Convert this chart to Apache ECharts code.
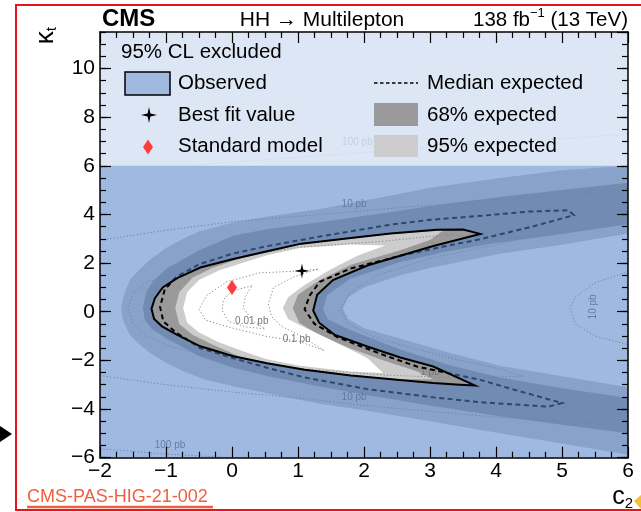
<!DOCTYPE html>
<html><head><meta charset="utf-8">
<script src="https://cdn.jsdelivr.net/npm/echarts@6/dist/echarts.min.js"></script>
<style>html,body{margin:0;padding:0;background:#fff}#c{width:641px;height:512px}</style>
</head><body><div id="c"></div>
<script>
// ---- axis ranges / ticks ----
const X_MIN = -2, X_MAX = 6, Y_MIN = -6, Y_MAX = 11.5;
const LEGEND_FLOOR = 6;

// ---- observed 95% CL allowed region (closed crescent) ----
const obsOuter = [[3.76,3.2],[3.5,3.38],[3.1,3.37],[2.4,3.22],[1.8,3.03],[1.05,2.8],[0.55,2.5],[0.02,2.17],[-0.48,1.82],[-0.83,1.38],[-1.05,1.0],[-1.17,0.55],[-1.22,0.12],[-1.18,-0.3],[-1.06,-0.6],[-0.83,-0.95],[-0.48,-1.42],[0.02,-1.83],[0.53,-2.12],[1.1,-2.38],[1.8,-2.62],[2.5,-2.8],[3.05,-2.93],[3.45,-3.0],[3.68,-3.03]];
const obsInner = [[3.05,-2.25],[2.55,-1.88],[2.05,-1.43],[1.55,-0.94],[1.32,-0.45],[1.23,0.05],[1.29,0.7],[1.53,1.3],[2.05,1.9],[2.55,2.3],[3.05,2.7]];

// ---- median expected (closed) ----
const medOuter = [[5.18,3.97],[5.1,4.17],[4.5,4.12],[3.8,3.95],[3.0,3.78],[2.4,3.58],[1.35,3.1],[0.5,2.68],[0.0,2.38],[-0.5,1.95],[-0.85,1.42],[-1.02,0.9],[-1.09,0.2],[-1.04,-0.4],[-0.85,-0.85],[-0.48,-1.5],[0.02,-1.91],[0.53,-2.3],[1.1,-2.7],[2.05,-3.18],[3.05,-3.52],[3.76,-3.72],[4.5,-3.85],[4.8,-3.9],[5.0,-3.75]];
const medInner = [[4.36,-3.27],[3.76,-2.8],[2.8,-2.25],[2.3,-1.78],[1.6,-1.05],[1.25,-0.5],[1.1,0.1],[1.18,0.68],[1.33,1.23],[1.79,1.77],[2.55,2.3],[3.2,2.68],[3.76,2.98],[4.52,3.48]];

// ---- expected +2 sigma region (outer edge of 95% band) ----
const e95Outer = [[6,6.0],[5.0,5.82],[4.06,5.5],[3.0,5.1],[2.39,4.77],[1.33,4.22],[0.5,3.9],[0.0,3.66],[-0.5,3.3],[-0.74,3.0],[-1.0,2.62],[-1.24,2.15],[-1.45,1.6],[-1.55,1.3],[-1.65,0.6],[-1.68,0.12],[-1.65,-0.35],[-1.55,-0.95],[-1.4,-1.35],[-1.24,-1.7],[-1.0,-2.1],[-0.74,-2.45],[-0.4,-2.8],[0.0,-3.05],[0.77,-3.48],[1.33,-3.78],[2.0,-4.05],[3.0,-4.5],[4.06,-5.0],[5.0,-5.42],[6,-5.88]];
const e95Inner = [[6,-3.1],[5.0,-2.65],[4.06,-2.22],[3.3,-1.7],[2.55,-1.1],[2.0,-0.68],[1.76,-0.3],[1.68,0.12],[1.76,0.6],[2.0,1.0],[2.55,1.5],[3.0,1.8],[4.06,2.38],[5.0,2.75],[6,3.22]];

// ---- expected +1 sigma region ----
const e68Outer = [[6,5.3],[5.0,5.0],[4.06,4.72],[3.0,4.35],[2.39,4.09],[1.33,3.68],[0.5,3.38],[0.02,3.12],[-0.48,2.55],[-0.98,1.8],[-1.2,1.25],[-1.3,0.8],[-1.35,0.15],[-1.32,-0.35],[-1.22,-0.7],[-0.98,-1.12],[-0.48,-1.84],[0.02,-2.3],[0.53,-2.64],[1.33,-3.07],[2.0,-3.4],[3.0,-3.85],[4.06,-4.3],[5.0,-4.65],[6,-5.0]];
const e68Inner = [[6,-3.55],[5.0,-3.15],[4.06,-2.7],[3.3,-2.2],[2.55,-1.55],[1.79,-0.75],[1.45,-0.3],[1.38,0.1],[1.44,0.68],[1.79,1.36],[2.55,2.05],[3.2,2.45],[3.9,2.78],[5.0,3.2],[6,3.6]];

// ---- expected -1 sigma region (closed) ----
const m1Contour = [[3.2,3.34],[2.4,3.19],[1.8,3.0],[1.05,2.77],[0.55,2.46],[0.1,2.17],[-0.3,1.8],[-0.6,1.4],[-0.8,0.8],[-0.86,0.15],[-0.8,-0.5],[-0.6,-0.95],[-0.3,-1.35],[0.1,-1.82],[0.53,-2.09],[1.1,-2.35],[1.8,-2.59],[2.5,-2.77],[3.05,-2.78],[2.8,-2.45],[2.3,-2.0],[1.79,-1.5],[1.35,-1.0],[1.02,-0.45],[0.92,0.15],[1.0,0.7],[1.3,1.25],[1.79,1.92],[2.55,2.53],[3.0,2.95]];

// ---- expected -2 sigma region (closed) ----
const m2Contour = [[2.32,2.72],[1.8,2.76],[1.03,2.62],[0.53,2.32],[0.2,2.05],[-0.2,1.7],[-0.5,1.3],[-0.68,0.8],[-0.74,0.15],[-0.68,-0.45],[-0.5,-0.85],[-0.2,-1.25],[0.2,-1.65],[0.53,-1.95],[1.03,-2.22],[1.79,-2.46],[2.29,-2.52],[2.05,-1.9],[1.53,-1.2],[1.1,-0.65],[0.85,-0.3],[0.77,0.15],[0.85,0.6],[1.1,1.1],[1.5,1.75],[1.9,2.3]];

// ---- theory cross-section isolines ----
const xs10Upper = [[-2,2.94],[-1,3.35],[0,3.7],[1.2,3.97],[2.5,4.27],[3.76,4.55],[6,5.0]];
const xs10Lower = [[-2,-2.62],[-1,-3.0],[0,-3.3],[1.03,-3.55],[2,-3.85],[3,-4.1],[4,-4.33],[6,-4.7]];
const xs10Right = [[6,1.64],[5.5,1.2],[5.2,0.6],[5.12,0.13],[5.2,-0.5],[5.5,-1.0],[6,-1.35]];
const xs100Top = [[-0.5,6.05],[1.5,6.45],[3.5,6.85],[6,7.3]];
const xs100Bottom = [[-2,-5.63],[-1,-5.85],[0,-6.0]];
const xs1 = [[4.4,3.05],[3.2,3.15],[2.3,2.9],[1.0,2.65],[0.3,2.35],[-0.4,1.95],[-0.9,1.6],[-1.3,1.2],[-1.5,0.75],[-1.58,0.15],[-1.5,-0.5],[-1.3,-1.0],[-0.9,-1.45],[-0.4,-1.8],[0.3,-2.1],[1.0,-2.33],[2.3,-2.6],[3.4,-2.72],[4.4,-2.65],[4.06,-2.35],[3.3,-1.9],[2.2,-1.1],[1.75,-0.5],[1.64,0.15],[1.8,0.8],[2.2,1.5],[3.0,2.2],[4.06,2.78],[4.4,3.05]];
const xs01 = [[1.3,1.75],[1.06,1.68],[0.42,1.6],[-0.08,1.23],[-0.38,0.68],[-0.5,0.1],[-0.4,-0.35],[0.02,-0.68],[0.53,-1.02],[1.0,-1.2],[1.4,-1.6],[1.05,-1.0],[0.75,-0.6],[0.6,-0.2],[0.55,0.32],[0.63,1.0],[0.95,1.45],[1.3,1.75]];
const xs001 = [[0.3,1.07],[0.0,0.85],[-0.13,0.5],[-0.15,0.05],[-0.05,-0.4],[0.2,-0.62],[0.5,-0.7],[0.3,-0.35],[0.17,0.18],[0.2,0.6],[0.3,1.07]];
const xsLabels = [
  {text:'10 pb', at:[1.85,4.42], rot:0},
  {text:'10 pb', at:[1.85,-3.52], rot:0},
  {text:'10 pb', at:[5.47,0.2], rot:90},
  {text:'100 pb', at:[1.9,6.98], rot:0},
  {text:'100 pb', at:[-0.94,-5.48], rot:0},
  {text:'1 pb', at:[3.0,-2.5], rot:0},
  {text:'0.1 pb', at:[0.98,-1.15], rot:0},
  {text:'0.01 pb', at:[0.3,-0.4], rot:0}
];

// ---- points ----
const smPoint = [[0, 1]];
const bestFit = [[1.06, 1.68]];

const FONT = '"Liberation Sans", Arial, Helvetica, sans-serif';
const OVERLAY = 'rgba(82,128,200,0.55)';
const GRAY95 = '#cccccc', GRAY68 = '#999999';
const minus = v => String(v).replace('-', '\u2212');

function toPx(api, pts) { return pts.map(p => api.coord(p)); }
function area(pts) { let a = 0; for (let i = 0; i < pts.length; i++) { const p = pts[i], q = pts[(i+1)%pts.length]; a += p[0]*q[1]-q[0]*p[1]; } return a/2; }

function renderLayers(params, api) {
  const ch = [];
  const fillPoly = (pts, fill) => ({type:'polygon', shape:{points:toPx(api, pts)}, style:{fill:fill, stroke:null}, silent:true});
  const strokePoly = (pts, stroke, w, dash, closed) => ({type: closed ? 'polygon' : 'polyline', shape:{points:toPx(api, pts)}, style:{fill:null, stroke:stroke, lineWidth:w, lineDash:dash}, silent:true});
  ch.push(fillPoly(e95Outer.concat(e95Inner), GRAY95));
  ch.push(fillPoly(e68Outer.concat(e68Inner), GRAY68));
  ch.push(fillPoly(m1Contour, GRAY95));
  ch.push(fillPoly(m2Contour, '#ffffff'));
  const dot = [1.2, 2.2];
  [xs10Upper, xs10Lower, xs10Right, xs100Top, xs100Bottom, xs01, xs001, xs1].forEach(l => ch.push(strokePoly(l, '#888888', 1, dot, false)));
  xsLabels.forEach(L => {
    const p = api.coord(L.at);
    ch.push({type:'text', x:p[0], y:p[1], rotation: L.rot ? Math.PI/2 : 0, silent:true,
      style:{text:L.text, fill:'#777777', font:'10px ' + FONT, align:'center', verticalAlign:'middle'}});
  });
  ch.push(strokePoly(medOuter.concat(medInner), '#000', 2, [5, 3.5], true));
  const tl = api.coord([X_MIN, Y_MAX]), tr = api.coord([X_MAX, Y_MAX]), br = api.coord([X_MAX, Y_MIN]), bl = api.coord([X_MIN, Y_MIN]);
  const rect = [tl, tr, br, bl];
  let hole = toPx(api, obsOuter.concat(obsInner));
  if (Math.sign(area(hole)) === Math.sign(area(rect))) hole = hole.slice().reverse();
  ch.push({type:'polygon', shape:{points: rect.concat([tl], hole, [hole[0]])}, style:{fill:OVERLAY, stroke:null}, silent:true});
  const lf = api.coord([X_MIN, LEGEND_FLOOR]);
  ch.push({type:'rect', shape:{x:tl[0], y:tl[1], width:tr[0]-tl[0], height:lf[1]-tl[1]}, style:{fill:'rgba(255,255,255,0.64)'}, silent:true});
  ch.push(strokePoly(obsOuter.concat(obsInner), '#000', 2, null, true));
  return {type:'group', children: ch};
}

const axisLineOn = {show:true, onZero:false, lineStyle:{color:'#000', width:1.5}};
const tickStyle = {color:'#000', width:1.2};
const chart = echarts.init(document.getElementById('c'), null, {renderer:'canvas'});
const option = {
  animation:false,
  backgroundColor:'#fff',
  grid:{left:100, right:13, top:32, bottom:54.3, outerBoundsMode:'none', containLabel:false},
  xAxis:[
    {type:'value', min:X_MIN, max:X_MAX, interval:1, position:'bottom', z:10, axisLine:axisLineOn, splitLine:{show:false},
      axisTick:{inside:true, length:11, lineStyle:tickStyle},
      minorTick:{show:true, splitNumber:4, length:6, lineStyle:tickStyle},
      axisLabel:{show:true, margin:3, color:'#000', fontSize:21, fontFamily:FONT, formatter:v=>minus(v)}},
    {type:'value', min:X_MIN, max:X_MAX, interval:1, position:'top', z:10, axisLine:axisLineOn, splitLine:{show:false},
      axisTick:{inside:true, length:11, lineStyle:tickStyle},
      minorTick:{show:true, splitNumber:4, length:6, lineStyle:tickStyle},
      axisLabel:{show:false}}
  ],
  yAxis:[
    {type:'value', min:Y_MIN, max:Y_MAX, interval:2, position:'left', z:10, axisLine:axisLineOn, splitLine:{show:false},
      axisTick:{inside:true, length:11, lineStyle:tickStyle},
      axisLabel:{show:true, margin:5, color:'#000', fontSize:21, fontFamily:FONT, showMaxLabel:false,
        formatter:v=>(Math.abs(v % 2) < 1e-9 && v <= 10) ? minus(v) : ''}},
    {type:'value', min:Y_MIN, max:Y_MAX, interval:0.5, position:'left', z:10, axisLine:{show:false, onZero:false}, splitLine:{show:false},
      axisTick:{inside:true, length:6, lineStyle:tickStyle}, axisLabel:{show:false}},
    {type:'value', min:Y_MIN, max:Y_MAX, interval:2, position:'right', z:10, axisLine:axisLineOn, splitLine:{show:false},
      axisTick:{inside:true, length:11, lineStyle:tickStyle}, axisLabel:{show:false}},
    {type:'value', min:Y_MIN, max:Y_MAX, interval:0.5, position:'right', z:10, axisLine:{show:false, onZero:false}, splitLine:{show:false},
      axisTick:{inside:true, length:6, lineStyle:tickStyle}, axisLabel:{show:false}}
  ],
  series:[
    {type:'custom', xAxisIndex:0, yAxisIndex:0, data:[[0,0]], renderItem:renderLayers, silent:true, z:2},
    {type:'scatter', xAxisIndex:0, yAxisIndex:0, data:smPoint, symbol:'diamond', symbolSize:[10,15],
      itemStyle:{color:'#ff3c3c', opacity:1}, silent:true, z:5},
    {type:'scatter', xAxisIndex:0, yAxisIndex:0, data:bestFit,
      symbol:'path://M0,-10 L1.7,-1.7 L10,0 L1.7,1.7 L0,10 L-1.7,1.7 L-10,0 L-1.7,-1.7 Z', symbolSize:15,
      itemStyle:{color:'#000', opacity:1}, silent:true, z:5}
  ],
  graphic:{elements:[
    {type:'rect', z:100, shape:{x:16, y:5, width:640, height:505}, style:{fill:null, stroke:'#e8141b', lineWidth:2}, silent:true},
    {type:'polygon', z:100, shape:{points:[[0,426],[12,434],[0,442]]}, style:{fill:'#000'}, silent:true},
    {type:'polygon', z:100, shape:{points:[[634,501],[641,495],[641,509]]}, style:{fill:'#f5c030'}, silent:true},
    {type:'text', z:100, x:102, y:19, style:{text:'CMS', font:'bold 24px ' + FONT, fill:'#000', align:'left', verticalAlign:'middle'}},
    {type:'text', z:100, x:322, y:20, style:{text:'HH \u2192 Multilepton', font:'21px ' + FONT, fill:'#000', align:'center', verticalAlign:'middle'}},
    {type:'text', z:100, x:628, y:19, style:{text:'{a|138 fb}{b|\u22121}{a| (13 TeV)}', align:'right', verticalAlign:'middle',
      rich:{a:{fontSize:20.5, fontFamily:FONT, fill:'#000', lineHeight:24, verticalAlign:'bottom'}, b:{fontSize:13, fontFamily:FONT, fill:'#000', verticalAlign:'top', lineHeight:14}}}},
    {type:'text', z:100, x:46, y:27, rotation:Math.PI/2, style:{text:'{k|\u03ba}{t|t}', align:'right', verticalAlign:'middle',
      rich:{k:{fontSize:26, fontFamily:FONT, fill:'#000', lineHeight:26, verticalAlign:'top'}, t:{fontSize:15, fontFamily:FONT, fill:'#000', verticalAlign:'bottom', lineHeight:15}}}},
    {type:'text', z:100, x:633, y:511, style:{text:'{c|c}{s|2}', align:'right', verticalAlign:'bottom',
      rich:{c:{fontSize:25, fontFamily:FONT, fill:'#000', lineHeight:26, verticalAlign:'top'}, s:{fontSize:15, fontFamily:FONT, fill:'#000', verticalAlign:'bottom', lineHeight:15}}}},
    {type:'text', z:100, x:27, y:497, style:{text:'CMS-PAS-HIG-21-002', font:'18px ' + FONT, fill:'#ef5f3f', align:'left', verticalAlign:'middle'}},
    {type:'line', z:100, shape:{x1:27, y1:507, x2:213, y2:507}, style:{stroke:'#ef5f3f', lineWidth:2.5}},
    {type:'text', z:100, x:121, y:52, style:{text:'95% CL excluded', font:'20.5px ' + FONT, fill:'#000', align:'left', verticalAlign:'middle'}},
    {type:'rect', z:100, shape:{x:125, y:72, width:45, height:23}, style:{fill:'#a0b9e1', stroke:'#000', lineWidth:1.5}},
    {type:'text', z:100, x:178, y:83.5, style:{text:'Observed', font:'20.5px ' + FONT, fill:'#000', align:'left', verticalAlign:'middle'}},
    {type:'polygon', z:100, shape:{points:[[149,107],[150.4,113.6],[157,115],[150.4,116.4],[149,123],[147.6,116.4],[141,115],[147.6,113.6]]}, style:{fill:'#000'}},
    {type:'text', z:100, x:178, y:115, style:{text:'Best fit value', font:'20.5px ' + FONT, fill:'#000', align:'left', verticalAlign:'middle'}},
    {type:'polygon', z:100, shape:{points:[[148,139.5],[153,147],[148,154.5],[143,147]]}, style:{fill:'#ff3c3c'}},
    {type:'text', z:100, x:178, y:146.5, style:{text:'Standard model', font:'20.5px ' + FONT, fill:'#000', align:'left', verticalAlign:'middle'}},
    {type:'line', z:100, shape:{x1:374, y1:83, x2:418, y2:83}, style:{stroke:'#000', lineWidth:1.5, lineDash:[3.5,2.5]}},
    {type:'text', z:100, x:427, y:83.5, style:{text:'Median expected', font:'20.5px ' + FONT, fill:'#000', align:'left', verticalAlign:'middle'}},
    {type:'rect', z:100, shape:{x:374, y:103, width:44, height:23}, style:{fill:'#9a9a9a'}},
    {type:'text', z:100, x:427, y:115, style:{text:'68% expected', font:'20.5px ' + FONT, fill:'#000', align:'left', verticalAlign:'middle'}},
    {type:'rect', z:100, shape:{x:374, y:135, width:44, height:22}, style:{fill:'#cdcdcd'}},
    {type:'text', z:100, x:427, y:146.5, style:{text:'95% expected', font:'20.5px ' + FONT, fill:'#000', align:'left', verticalAlign:'middle'}}
  ]}
};
chart.setOption(option);
</script>
</body></html>
